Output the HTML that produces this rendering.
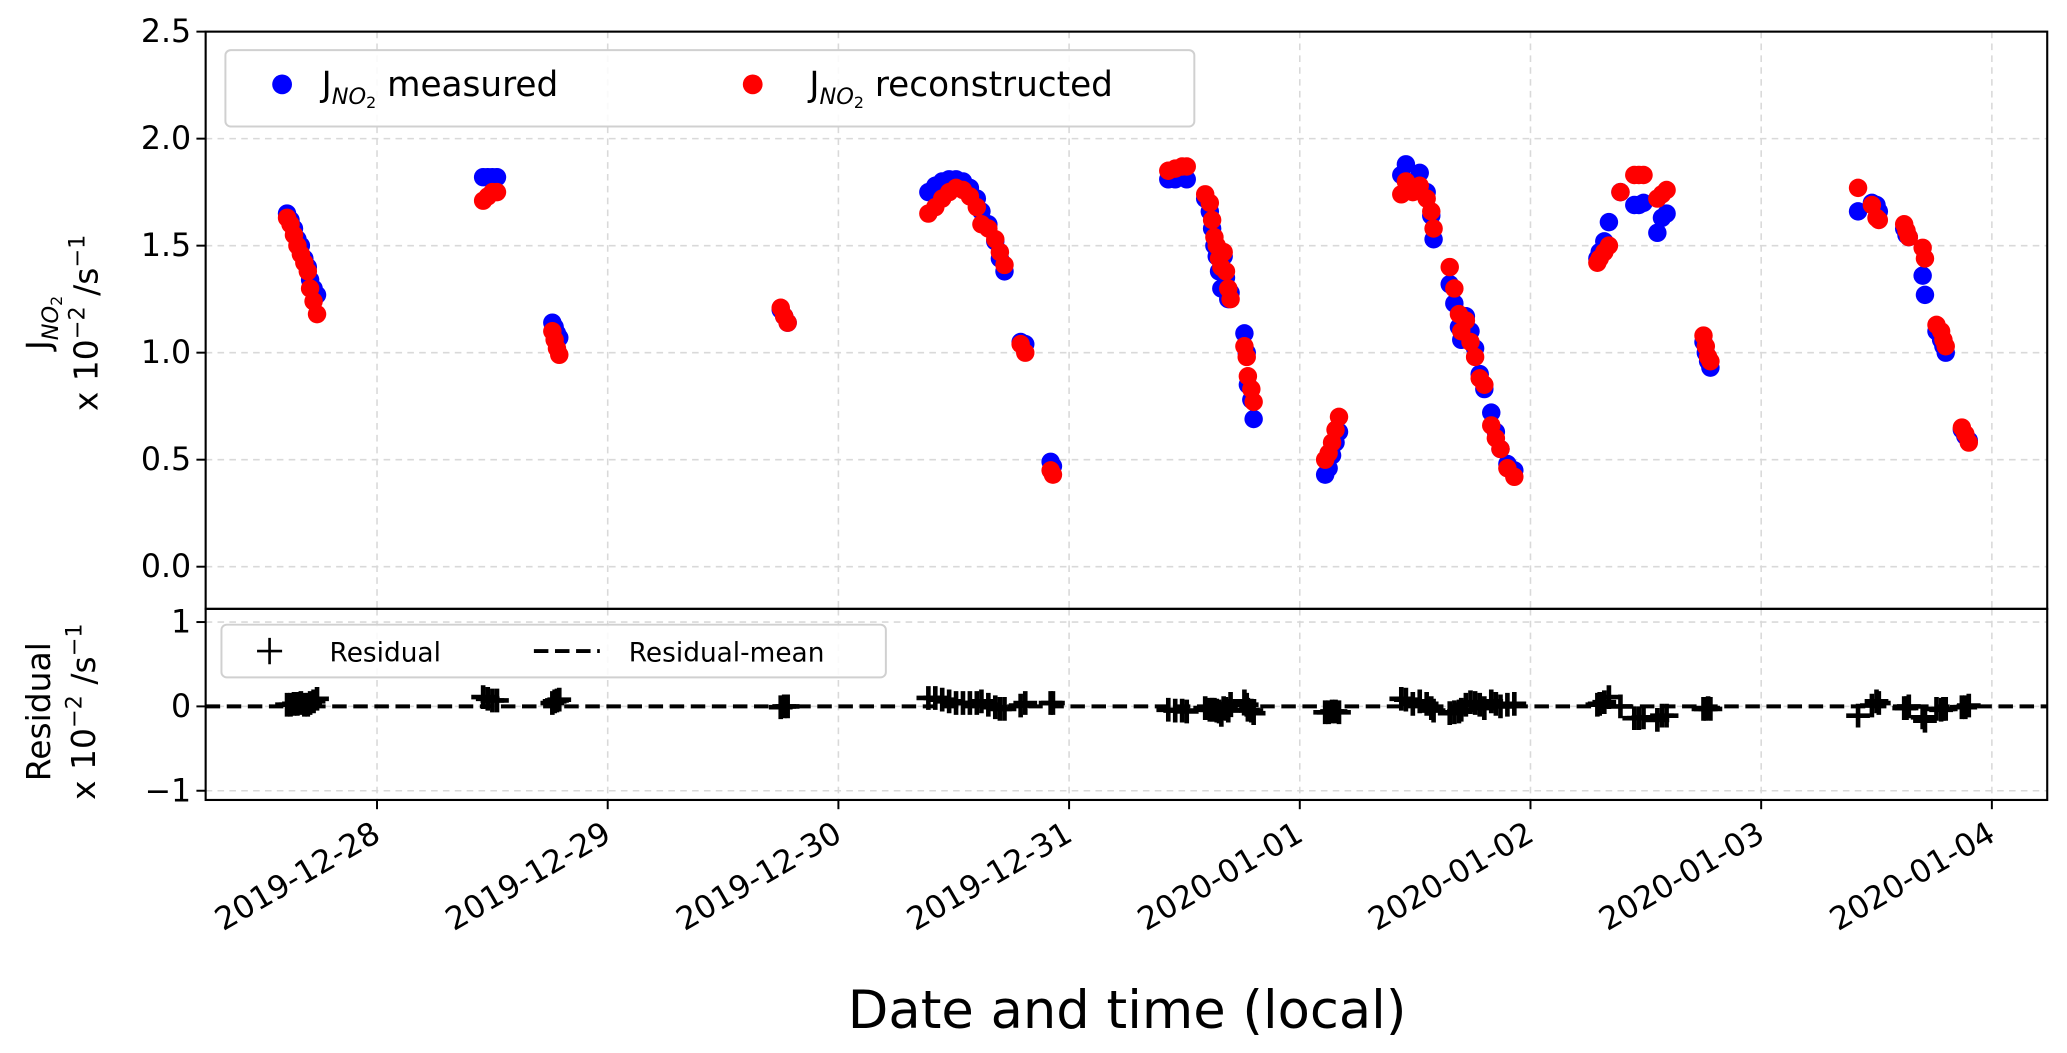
<!DOCTYPE html>
<html><head><meta charset="utf-8"><style>
html,body{margin:0;padding:0;background:#fff}
svg{display:block;font-family:"DejaVu Sans","Liberation Sans",sans-serif}
</style></head><body>
<svg id="chart" width="2067" height="1053" viewBox="0 0 1568 799" preserveAspectRatio="none" xmlns="http://www.w3.org/2000/svg">
<g id="grid"></g>
<g id="marks"></g>
<g id="axes"></g>
</svg>
<script>
// days since 2019-12-28 00:00 local
const times = [-0.39,-0.375,-0.36,-0.345,-0.33,-0.315,-0.30,-0.29,-0.275,-0.26,
0.46,0.48,0.50,0.52, 0.76,0.77,0.78,0.79, 1.75,1.765,1.78,
2.39,2.42,2.45,2.48,2.51,2.54,2.57,2.60,2.62,2.65,2.68,2.70,2.72,2.79,2.81, 2.92,2.93,
3.43,3.46,3.49,3.51, 3.59,3.61,3.62,3.63,3.64,3.65,3.66,3.67,3.68,3.69,3.70,3.76,3.77,3.775,3.79,3.80,
4.11,4.125,4.14,4.155,4.17, 4.44,4.46,4.49,4.52,4.55,4.57,4.58,
4.65,4.67,4.69,4.70,4.72,4.74,4.76,4.78,4.80,4.83,4.85,4.87,4.90,4.93,
5.29,5.30,5.32,5.34, 5.39,5.45,5.47,5.49, 5.55,5.57,5.59, 5.75,5.76,5.77,5.78,
6.42,6.48,6.50,6.51, 6.62,6.63,6.64,6.70,6.71,6.76,6.78,6.79,6.80, 6.87,6.885,6.90];
const measured = [1.65,1.62,1.58,1.53,1.50,1.44,1.40,1.34,1.30,1.27,
1.82,1.82,1.82,1.82, 1.14,1.12,1.09,1.07, 1.20,1.17,1.14,
1.75,1.78,1.80,1.81,1.81,1.80,1.77,1.72,1.66,1.60,1.52,1.44,1.38,1.05,1.04, 0.49,0.47,
1.81,1.81,1.82,1.81, 1.72,1.66,1.58,1.50,1.45,1.38,1.30,1.45,1.35,1.25,1.28,1.09,1.00,0.85,0.78,0.69,
0.43,0.46,0.52,0.58,0.63, 1.83,1.88,1.78,1.84,1.75,1.64,1.53,
1.32,1.23,1.12,1.06,1.17,1.10,1.02,0.90,0.83,0.72,0.63,0.55,0.48,0.45,
1.44,1.47,1.52,1.61, 1.75,1.69,1.69,1.70, 1.56,1.63,1.65, 1.05,1.00,0.96,0.93,
1.66,1.70,1.69,1.66, 1.58,1.55,1.54,1.36,1.27,1.10,1.06,1.03,1.00, 0.64,0.61,0.59];
const reconstructed = [1.63,1.60,1.55,1.50,1.46,1.42,1.38,1.30,1.24,1.18,
1.71,1.73,1.75,1.75, 1.10,1.06,1.02,0.99, 1.21,1.17,1.14,
1.65,1.68,1.72,1.75,1.77,1.76,1.73,1.68,1.60,1.58,1.53,1.47,1.41,1.04,1.00, 0.45,0.43,
1.85,1.86,1.87,1.87, 1.74,1.70,1.62,1.54,1.50,1.44,1.40,1.47,1.38,1.30,1.25,1.03,0.98,0.89,0.83,0.77,
0.50,0.53,0.58,0.64,0.70, 1.74,1.80,1.75,1.78,1.72,1.66,1.58,
1.40,1.30,1.18,1.10,1.15,1.05,0.98,0.88,0.85,0.66,0.60,0.55,0.46,0.42,
1.42,1.44,1.47,1.50, 1.75,1.83,1.83,1.83, 1.72,1.74,1.76, 1.08,1.03,0.98,0.96,
1.77,1.69,1.63,1.62, 1.60,1.57,1.54,1.49,1.44,1.13,1.10,1.06,1.03, 0.65,0.62,0.58];
const xTickLabels = ["2019-12-28","2019-12-29","2019-12-30","2019-12-31","2020-01-01","2020-01-02","2020-01-03","2020-01-04"];
const yTicksTop = [0.0,0.5,1.0,1.5,2.0,2.5];
const yTicksRes = [-1,0,1];

const NS="http://www.w3.org/2000/svg";
const L=156,R=1553,T=24,MID=462,B=607;
const xS=d=>286+d*175;
const yTop=v=>430-v*162.4;
const yRes=v=>536-v*64;
function mk(tag,attrs,parent,text){const e=document.createElementNS(NS,tag);for(const k in attrs)e.setAttribute(k,attrs[k]);if(text!==undefined)e.textContent=text;parent.appendChild(e);return e;}
const grid=document.getElementById('grid'),marks=document.getElementById('marks'),axes=document.getElementById('axes');
const gs={stroke:'#d9d9d9','stroke-width':1.2,'stroke-dasharray':'5,4'};
xTickLabels.forEach((lab,i)=>{
  const x=xS(i);
  let g1=mk('line',Object.assign({x1:x,x2:x,y1:T,y2:MID},gs),grid);
  
  
  let g2=mk('line',Object.assign({x1:x,x2:x,y1:MID,y2:B},gs),grid);
  
  
  mk('line',{x1:x,x2:x,y1:B,y2:B+7,stroke:'#000','stroke-width':1.5},axes);
  const t=mk('text',{x:0,y:0,'font-size':24,'text-anchor':'end',transform:`translate(${x+4},${B+30}) rotate(-30)`},axes,lab);
  
  
});
yTicksTop.forEach(v=>{
  const y=yTop(v);
  if(v<2.5){const g=mk('line',Object.assign({x1:L,x2:R,y1:y,y2:y},gs),grid);
    
    }
  mk('line',{x1:L-7,x2:L,y1:y,y2:y,stroke:'#000','stroke-width':1.5},axes);
  const t=mk('text',{x:L-11,y:y+8,'font-size':24,'text-anchor':'end'},axes,v.toFixed(1));
  
  
});
yTicksRes.forEach(v=>{
  const y=yRes(v);
  const g=mk('line',Object.assign({x1:L,x2:R,y1:y,y2:y},gs),grid);
  
  
  mk('line',{x1:L-7,x2:L,y1:y,y2:y,stroke:'#000','stroke-width':1.5},axes);
  const t=mk('text',{x:L-11,y:y+8,'font-size':24,'text-anchor':'end'},axes,v<0?'\u2212'+Math.abs(v):String(v));
  
  
});
times.forEach((d,i)=>{
  const c=mk('circle',{cx:xS(d),cy:yTop(measured[i]),r:7,fill:'#0000ff'},marks);
  
  
});
times.forEach((d,i)=>{
  const c=mk('circle',{cx:xS(d),cy:yTop(reconstructed[i]),r:7,fill:'#ff0000'},marks);
  
  
});
const rm=mk('line',{x1:L,x2:R,y1:yRes(0),y2:yRes(0),stroke:'#000','stroke-width':3,'stroke-dasharray':'11,5'},marks);


times.forEach((d,i)=>{
  const x=xS(d),y=yRes(measured[i]-reconstructed[i]);
  const p=mk('path',{d:`M${x-9},${y}H${x+9}M${x},${y-9}V${y+9}`,stroke:'#000','stroke-width':3.5,fill:'none'},marks);
  
  
});
mk('rect',{x:L,y:T,width:R-L,height:MID-T,fill:'none',stroke:'#000','stroke-width':1.6},axes);
mk('rect',{x:L,y:MID,width:R-L,height:B-MID,fill:'none',stroke:'#000','stroke-width':1.6},axes);
</script>
<svg style="position:absolute;left:0;top:0" width="2067" height="1053" viewBox="0 0 1568 799" preserveAspectRatio="none" xmlns="http://www.w3.org/2000/svg" font-family="DejaVu Sans, Liberation Sans, sans-serif">
<g>
<rect x="171" y="38" width="735" height="58" rx="4" fill="#fff" fill-opacity="0.85" stroke="#d0d0d0" stroke-width="1.5"/>
<circle cx="214" cy="64" r="7.5" fill="#0000ff"/>
<text x="244" y="73" font-size="26">J<tspan font-size="17" font-style="italic" dy="6">NO</tspan><tspan font-size="12" dy="3">2</tspan><tspan dy="-9"> measured</tspan></text>
<circle cx="571" cy="64" r="7.5" fill="#ff0000"/>
<text x="614" y="73" font-size="26">J<tspan font-size="17" font-style="italic" dy="6">NO</tspan><tspan font-size="12" dy="3">2</tspan><tspan dy="-9"> reconstructed</tspan></text>
</g>
<g>
<rect x="168" y="474" width="504" height="40" rx="4" fill="#fff" fill-opacity="0.85" stroke="#d0d0d0" stroke-width="1.5"/>
<path d="M195,494H214M204.5,484V504" stroke="#000" stroke-width="2"/>
<text x="250" y="502" font-size="20">Residual</text>
<line x1="405" x2="455" y1="494" y2="494" stroke="#000" stroke-width="3" stroke-dasharray="11,5"/>
<text x="477" y="502" font-size="20">Residual-mean</text>
</g>
<text font-size="25" text-anchor="middle" transform="translate(38,245) rotate(-90)">J<tspan font-size="17" font-style="italic" dy="6">NO</tspan><tspan font-size="12" dy="3">2</tspan></text>
<text font-size="25" text-anchor="middle" transform="translate(74,245) rotate(-90)">x 10<tspan font-size="17" dy="-10">−2</tspan><tspan dy="10"> /s</tspan><tspan font-size="17" dy="-10">−1</tspan></text>
<text font-size="25" text-anchor="middle" transform="translate(38,540) rotate(-90)">Residual</text>
<text font-size="25" text-anchor="middle" transform="translate(72,540) rotate(-90)">x 10<tspan font-size="17" dy="-10">−2</tspan><tspan dy="10"> /s</tspan><tspan font-size="17" dy="-10">−1</tspan></text>
<text x="855" y="780" font-size="40" text-anchor="middle">Date and time (local)</text>
</svg>
</body></html>
